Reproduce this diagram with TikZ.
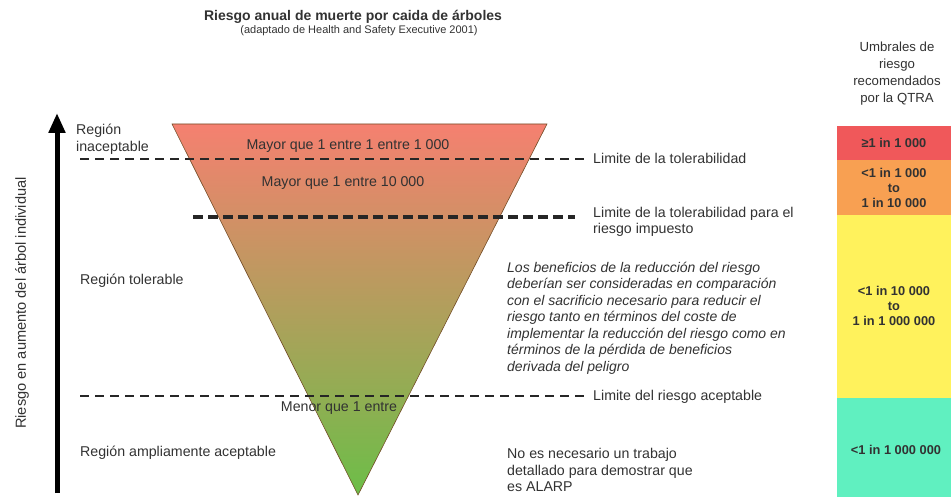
\documentclass[tikz,border=0pt]{standalone}
\usepackage{fontspec}
\setmainfont{Liberation Sans}
\usepackage{tikz}
\usetikzlibrary{arrows.meta}
\definecolor{colortop}     {RGB}{245,128,112}
\definecolor{colormid}     {RGB}{212,160,98}
\definecolor{colorbot}     {RGB}{108,190,72}
\definecolor{colortext}    {RGB}{50 ,50 ,50 }
\definecolor{colorred}     {RGB}{240,88 ,90 }
\definecolor{colororange}  {RGB}{248,160,82 }
\definecolor{coloryellow}  {RGB}{255,242,92 }
\definecolor{colorteal}    {RGB}{96 ,240,192}

\begin{document}
\begin{tikzpicture}[
    x=1pt, y=-1pt,
    label/.style={text=colortext,font={\fontsize{14.2}{16.5}\selectfont},inner sep=0,anchor=west,align=left},
    note/.style={label,font={\fontsize{14}{16.5}\selectfont\itshape}},
    level/.style={label,anchor=center,align=center},
    band/.style={text=colortext,font={\fontsize{12.8}{15}\selectfont\bfseries},align=center,inner sep=0},
    limit/.style={draw=black!85,line width=2.5pt,dash pattern=on 9pt off 6pt},
]
    \useasboundingbox (0,0) rectangle (951,497);

    % title
    \node[text=colortext,font={\fontsize{14}{16}\selectfont\bfseries},inner sep=0] (title) at (353,17) {Riesgo anual de muerte por caida de árboles};
    \node[text=colortext,font={\fontsize{11}{13}\selectfont},inner sep=0] (subtitle) at (359,31) {(adaptado de Health and Safety Executive 2001)};

    % inverted triangle
    \shade[top color=colortop, middle color=colormid, bottom color=colorbot]
        (172,124) -- (547,124) -- (358,495) -- cycle;
    \draw[draw=brown!60!black,line width=0.6pt] (172,124) -- (547,124) -- (358,495) -- cycle;

    \node[level] (above1000) at (348,146) {Mayor que 1 entre 1 entre 1 000};
    \node[level] (above10000) at (343,183) {Mayor que 1 entre 10 000};
    \node[level] (below) at (339,408) {Menor que 1 entre};

    % limits
    \coordinate (tolA) at (80,159);
    \coordinate (tolB) at (585,159);
    \coordinate (impA) at (193,217);
    \coordinate (impB) at (575,217);
    \coordinate (accA) at (80,396);
    \coordinate (accB) at (585,396);
    \draw[limit] (tolA) -- (tolB);
    \draw[limit,line width=3.3pt,dash pattern=on 10pt off 5pt] (impA) -- (impB);
    \draw[limit] (accA) -- (accB);

    \node[label] (tol) at (593,158) {Limite de la tolerabilidad};
    \node[label] (imp) at (593,222) {Limite de la tolerabilidad para el\\riesgo impuesto};
    \node[label] (acc) at (593,397) {Limite del riesgo aceptable};
    \node[note] (benefit) at (507,318) {Los beneficios de la reducción del riesgo\\
    deberían ser consideradas en comparación\\
    con el sacrificio necesario para reducir el\\
    riesgo tanto en términos del coste de\\
    implementar la reducción del riesgo como en\\
    términos de la pérdida de beneficios\\
    derivada del peligro};
    \node[label] (alarp) at (507,470) {No es necesario un trabajo\\
    detallado para demostrar que\\
    es ALARP};

    % regions
    \node[label] (unacc) at (76,139) {Región\\inaceptable};
    \node[label] (toler) at (80,281) {Región tolerable};
    \node[label] (broad) at (80,453) {Región ampliamente aceptable};

    % risk axis
    \coordinate (axisbot) at (57,493);
    \coordinate (axistop) at (57,113);
    \draw[line width=5pt,-{Triangle[width=16pt,length=20pt]}] (axisbot) -- (axistop);
    \node[label,anchor=center,rotate=90,font={\fontsize{14.6}{17}\selectfont}] (axis) at (22,303) {Riesgo en aumento del árbol individual};

    % QTRA thresholds
    \node[text=colortext,font={\fontsize{13.2}{17}\selectfont},align=center,inner sep=0] (qtra) at (897,74) {Umbrales de\\riesgo\\recomendados\\por la QTRA};
    \fill[colorred]    (837,126) rectangle (951,160);
    \fill[colororange] (837,160) rectangle (951,215);
    \fill[coloryellow] (837,215) rectangle (951,398);
    \fill[colorteal]   (837,398) rectangle (951,497);
    \node[band] (band1) at (894,143) {≥1 in 1 000};
    \node[band] (band2) at (894,188) {<1 in 1 000\\to\\1 in 10 000};
    \node[band] (band3) at (894,306) {<1 in 10 000\\to\\1 in 1 000 000};
    \node[band] (band4) at (896,450) {<1 in 1 000 000};

\end{tikzpicture}
\end{document}
